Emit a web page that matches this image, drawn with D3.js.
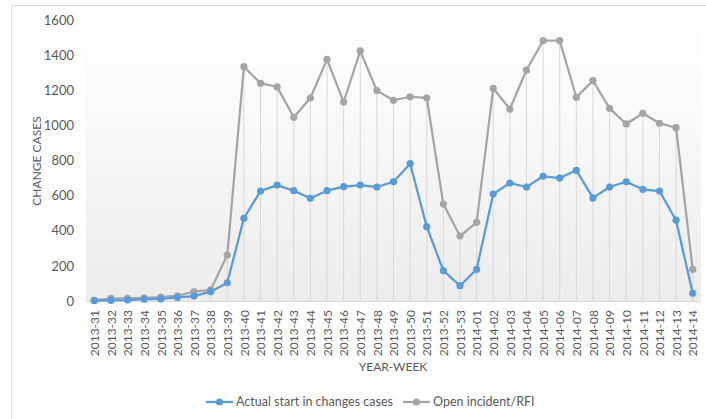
<!DOCTYPE html>
<html>
<head>
<meta charset="utf-8">
<script src="https://cdn.jsdelivr.net/npm/d3@7"></script>
<style>
  body { margin: 0; background: #fff; }
  text { font-family: Lato, "Open Sans", sans-serif; fill: #595959; }
</style>
</head>
<body>
<div id="container"></div>
<script>
// data
const weeks = [
    "2013-31", "2013-32", "2013-33", "2013-34", "2013-35", "2013-36", "2013-37", "2013-38",
    "2013-39", "2013-40", "2013-41", "2013-42", "2013-43", "2013-44", "2013-45", "2013-46",
    "2013-47", "2013-48", "2013-49", "2013-50", "2013-51", "2013-52", "2013-53",
    "2014-01", "2014-02", "2014-03", "2014-04", "2014-05", "2014-06", "2014-07", "2014-08",
    "2014-09", "2014-10", "2014-11", "2014-12", "2014-13", "2014-14"
];
const actualStart = [
    2, 3, 5, 10, 12, 20, 28, 53, 104, 471, 626, 660, 628, 585, 628, 651,
    660, 649, 679, 782, 423, 173, 87,
    180, 609, 672, 649, 710, 700, 744, 587, 649, 679, 636, 626, 460, 44
];
const openIncident = [
    3, 15, 15, 18, 22, 30, 53, 63, 262, 1334, 1240, 1219, 1046, 1156, 1376, 1133,
    1424, 1198, 1143, 1163, 1156, 552, 370,
    448, 1211, 1093, 1315, 1482, 1482, 1160, 1255, 1097, 1008, 1069, 1012, 987, 180
];
const yTicks = [0, 200, 400, 600, 800, 1000, 1200, 1400, 1600];
const seriesNames = ["Actual start in changes cases", "Open incident/RFI"];
const seriesColors = ["#5b9bd5", "#a5a5a5"];

const width = 706, height = 419;
const plot = { left: 86, right: 701, top: 20, bottom: 301 };

const svg = d3.select("#container").append("svg")
    .attr("width", width).attr("height", height);

// chart border
svg.append("rect")
    .attr("x", 11.5).attr("y", 5.5)
    .attr("width", 720).attr("height", 440)
    .attr("fill", "none").attr("stroke", "#d9d9d9");

// plot background gradient
const grad = svg.append("defs").append("linearGradient")
    .attr("id", "bg").attr("x1", 0).attr("y1", 0).attr("x2", 0).attr("y2", 1);
grad.append("stop").attr("offset", "0%").attr("stop-color", "#ffffff");
grad.append("stop").attr("offset", "100%").attr("stop-color", "#ececec");

svg.append("rect")
    .attr("x", plot.left).attr("y", plot.top)
    .attr("width", plot.right - plot.left).attr("height", plot.bottom - plot.top)
    .attr("fill", "url(#bg)");

const x = d3.scalePoint().domain(weeks)
    .range([plot.left, plot.right]).padding(0.5);
const y = d3.scaleLinear().domain([0, 1600]).range([plot.bottom, plot.top]);

// drop lines
svg.append("g").selectAll("line")
    .data(weeks)
    .join("line")
    .attr("x1", d => x(d)).attr("x2", d => x(d))
    .attr("y1", (d, i) => y(Math.max(openIncident[i], actualStart[i])))
    .attr("y2", y(0))
    .attr("stroke", "#d9d9d9").attr("stroke-width", 1);

// y axis
const yAxis = svg.append("g")
    .attr("transform", `translate(${plot.left},0)`)
    .call(d3.axisLeft(y).tickValues(yTicks).tickFormat(d3.format("d")).tickSize(0).tickPadding(12));
yAxis.select(".domain").remove();
yAxis.selectAll("text").attr("font-size", 13).style("font-family", "Lato, sans-serif").attr("fill", "#595959");

// x axis
const xAxis = svg.append("g")
    .attr("transform", `translate(0,${plot.bottom})`)
    .call(d3.axisBottom(x).tickSize(0).tickPadding(0));
xAxis.select(".domain").attr("stroke", "#d9d9d9");
xAxis.selectAll("text")
    .attr("font-size", 12)
    .style("font-family", "Lato, sans-serif")
    .attr("fill", "#595959")
    .attr("text-anchor", "end")
    .attr("dy", "0.35em")
    .attr("transform", "translate(0,9) rotate(-90)")
    .attr("x", 0).attr("y", 0);

// axis titles
svg.append("text")
    .attr("transform", "translate(41,161) rotate(-90)")
    .attr("text-anchor", "middle")
    .attr("font-size", 12)
    .text("CHANGE CASES");

svg.append("text")
    .attr("x", 393).attr("y", 371)
    .attr("text-anchor", "middle")
    .attr("font-size", 12)
    .text("YEAR-WEEK");

// lines and markers
const series = [openIncident, actualStart];
const colors = [seriesColors[1], seriesColors[0]];
const line = d3.line().x((d, i) => x(weeks[i])).y(d => y(d));

series.forEach((vals, k) => {
    svg.append("path")
        .datum(vals)
        .attr("d", line)
        .attr("fill", "none")
        .attr("stroke", colors[k])
        .attr("stroke-width", 2.25)
        .attr("stroke-linejoin", "round");
    svg.append("g").selectAll("circle")
        .data(vals)
        .join("circle")
        .attr("cx", (d, i) => x(weeks[i]))
        .attr("cy", d => y(d))
        .attr("r", 3.6)
        .attr("fill", colors[k]);
});

// legend
const legendPos = [206, 403];
seriesNames.forEach((name, k) => {
    const lg = svg.append("g").attr("transform", `translate(${legendPos[k]},402)`);
    lg.append("line")
        .attr("x1", 0).attr("x2", 27).attr("y1", 0).attr("y2", 0)
        .attr("stroke", seriesColors[k]).attr("stroke-width", 2.25);
    lg.append("circle").attr("cx", 13.5).attr("cy", 0).attr("r", 3.6)
        .attr("fill", seriesColors[k]);
    lg.append("text")
        .attr("x", 30).attr("y", 0).attr("dy", "0.35em")
        .attr("font-size", 12.5)
        .text(name);
});
</script>
</body>
</html>
